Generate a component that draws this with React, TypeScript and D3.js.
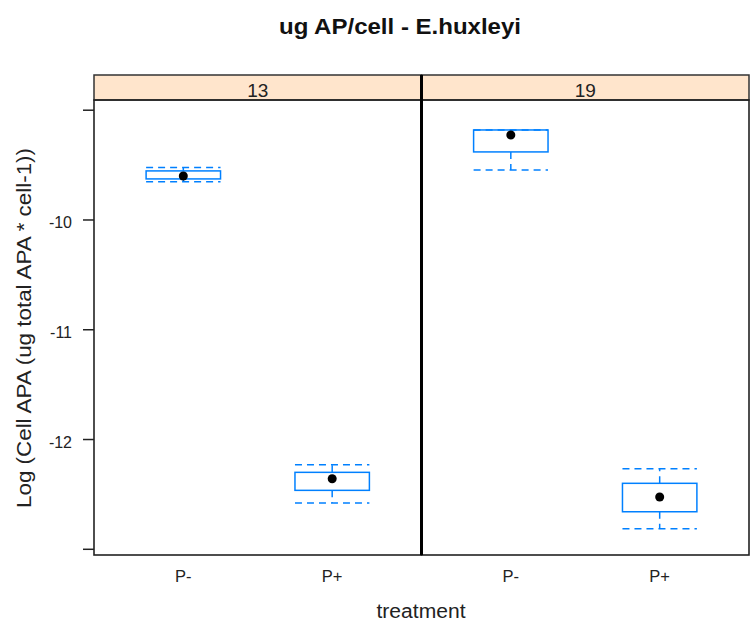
import React from "react";
import * as d3 from "d3";

const panels = ["13", "19"];
const treatments = ["P-", "P+"];
// per panel, per treatment: [lowerWhisker, q1, median, q3, upperWhisker]
const lowerWhisker = [[-9.651, -12.579], [-9.544, -12.813]];
const q1 = [[-9.626, -12.463], [-9.380, -12.658]];
const median = [[-9.599, -12.357], [-9.226, -12.524]];
const q3 = [[-9.553, -12.299], [-9.180, -12.399]];
const upperWhisker = [[-9.523, -12.230], [-9.180, -12.266]];
const yTicks = [-13, -12, -11, -10, -9];
const yTickLabels = ["", "-12", "-11", "-10", ""];

const W = 751, H = 623;
const panelLeft = 94, panelRight = 749;
const stripTop = 75, stripBottom = 100, panelBottom = 555;
const blue = "#0080ff";
const font = "'Liberation Sans', Arial, sans-serif";

export default function App() {
  const panelW = (panelRight - panelLeft) / panels.length;
  const y = d3.scaleLinear().domain([-13.052, -8.907]).range([panelBottom, stripBottom]);
  const x = d3.scaleLinear().domain([0.4, 2.6]).range([0, panelW]);
  const boxHalf = x(1.25) - x(1);

  return (
    <svg width={W} height={H} style={{ position: "absolute", left: 0, top: 0, background: "#fff" }}>
      <text x={400} y={34} textAnchor="middle" fontFamily={font} fontWeight="bold" fontSize={22}
        textLength={242} lengthAdjust="spacingAndGlyphs" fill="#111">
        ug AP/cell - E.huxleyi
      </text>
      {panels.map((p, pi) => {
        const ox = panelLeft + pi * panelW;
        return (
          <g key={p} transform={`translate(${ox},0)`}>
            <rect x={0} y={stripTop} width={panelW} height={stripBottom - stripTop} fill="#ffe5cc" stroke="#333" strokeWidth={1.5} />
            <text x={panelW / 2} y={stripBottom - 3} textAnchor="middle" fontFamily={font} fontSize={19} fill="#222">{p}</text>
            <rect x={0} y={stripBottom} width={panelW} height={panelBottom - stripBottom} fill="none" stroke="#222" strokeWidth={1.6} />
            {treatments.map((t, ti) => {
              const cx = x(ti + 1);
              const lw = lowerWhisker[pi][ti], b1 = q1[pi][ti], m = median[pi][ti], b3 = q3[pi][ti], uw = upperWhisker[pi][ti];
              return (
                <g key={t}>
                  <line x1={cx} x2={cx} y1={y(b3)} y2={y(uw)} stroke={blue} strokeWidth={1.5} strokeDasharray="7,5" />
                  <line x1={cx} x2={cx} y1={y(b1)} y2={y(lw)} stroke={blue} strokeWidth={1.5} strokeDasharray="7,5" />
                  <line x1={cx - boxHalf} x2={cx + boxHalf} y1={y(uw)} y2={y(uw)} stroke={blue} strokeWidth={1.5} strokeDasharray="7,5" />
                  <line x1={cx - boxHalf} x2={cx + boxHalf} y1={y(lw)} y2={y(lw)} stroke={blue} strokeWidth={1.5} strokeDasharray="7,5" />
                  <rect x={cx - boxHalf} y={y(b3)} width={2 * boxHalf} height={Math.max(0.5, y(b1) - y(b3))} fill="none" stroke={blue} strokeWidth={1.5} />
                  <circle cx={cx} cy={y(m)} r={4.5} fill="#000" />
                </g>
              );
            })}
            {treatments.map((t, ti) => (
              <text key={t} x={x(ti + 1)} y={582} textAnchor="middle" fontFamily={font} fontSize={16.5} fill="#222">{t}</text>
            ))}
          </g>
        );
      })}
      <line x1={panelLeft + panelW} x2={panelLeft + panelW} y1={stripTop} y2={panelBottom} stroke="#000" strokeWidth={3} />
      {yTicks.map((v, i) => (
        <g key={v}>
          <line x1={83} x2={panelLeft} y1={y(v)} y2={y(v)} stroke="#222" strokeWidth={1.5} />
          {yTickLabels[i] && (
            <text x={72} y={y(v) + 8} textAnchor="end" fontFamily={font} fontSize={16} fill="#222">{yTickLabels[i]}</text>
          )}
        </g>
      ))}
      <text x={421} y={618} textAnchor="middle" fontFamily={font} fontSize={20} fill="#222"
        textLength={89} lengthAdjust="spacingAndGlyphs">treatment</text>
      <text transform={`translate(31,328) rotate(-90)`} textAnchor="middle" fontFamily={font} fontSize={21} fill="#222"
        textLength={360} lengthAdjust="spacingAndGlyphs">
        Log (Cell APA (ug total APA * cell-1))
      </text>
    </svg>
  );
}
